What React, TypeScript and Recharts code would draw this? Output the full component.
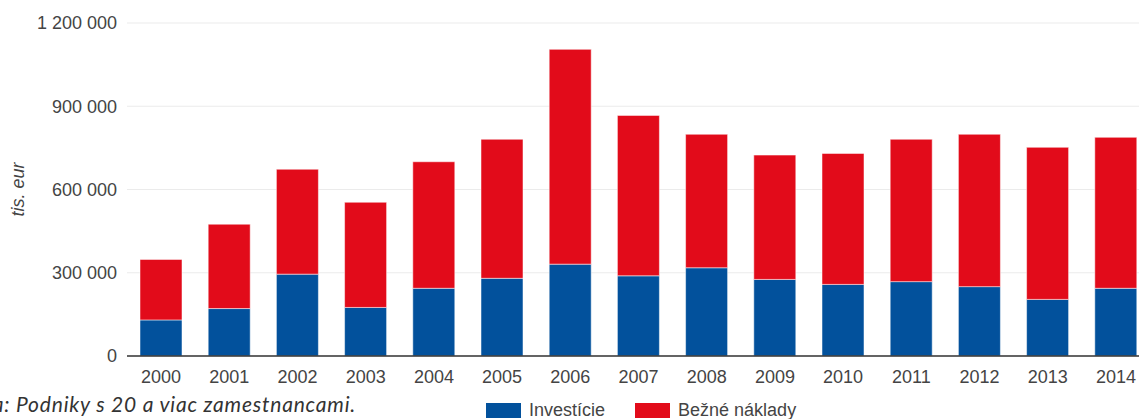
import { BarChart, Bar, XAxis, YAxis, CartesianGrid } from "recharts";

const years = [
  "2000", "2001", "2002", "2003", "2004", "2005", "2006", "2007",
  "2008", "2009", "2010", "2011", "2012", "2013", "2014",
];
// tis. eur
const investicie = [
  130000, 171000, 295000, 175000, 244000, 280000, 331000, 289000,
  318000, 276000, 258000, 268000, 250000, 204000, 244000,
];
const bezneNaklady = [
  218000, 304000, 378000, 379000, 456000, 501000, 774000, 578000,
  481000, 448000, 472000, 513000, 549000, 548000, 544000,
];
const yTicks = [0, 300000, 600000, 900000, 1200000];

const BLUE = "#02519c";
const RED = "#e20b1a";
const FONT = "'Liberation Sans', Arial, sans-serif";

const chartData = years.map((year, i) => ({
  year,
  investicie: investicie[i],
  bezne: bezneNaklady[i],
}));

const fmt = (v: number) => String(v).replace(/\B(?=(\d{3})+(?!\d))/g, " ");

const legendItems = [
  { label: "Investície", color: BLUE },
  { label: "Bežné náklady", color: RED },
];

export default function App() {
  return (
    <div
      style={{
        position: "absolute",
        left: 0,
        top: 0,
        width: 1139,
        height: 419,
        overflow: "hidden",
        background: "#fff",
      }}
    >
      <BarChart
        width={1160}
        height={419}
        data={chartData}
        margin={{ top: 23, right: 10, left: 0, bottom: 33 }}
      >
        <CartesianGrid vertical={false} stroke="#ebebeb" />
        <XAxis
          dataKey="year"
          height={30}
          axisLine={{ stroke: "#333", strokeWidth: 1.5 }}
          tickLine={false}
          tickMargin={8}
          tick={{ fill: "#444", fontSize: 18, fontFamily: FONT }}
        />
        <YAxis
          width={127}
          domain={[0, 1200000]}
          ticks={yTicks}
          tickFormatter={fmt}
          axisLine={false}
          tickLine={false}
          tickMargin={4}
          tick={{ fill: "#444", fontSize: 18, fontFamily: FONT }}
          label={{
            content: ({ viewBox }: any) => {
              const cy = viewBox.y + viewBox.height / 2;
              return (
                <text
                  x={18}
                  y={cy}
                  transform={`rotate(-90, 18, ${cy})`}
                  textAnchor="middle"
                  dominantBaseline="central"
                  fill="#444"
                  fontSize={18}
                  fontStyle="italic"
                  fontFamily={FONT}
                >
                  tis. eur
                </text>
              );
            },
          }}
        />
        <Bar
          dataKey="investicie"
          stackId="a"
          fill={BLUE}
          barSize={42}
          stroke="rgba(255,255,255,0.5)"
          strokeWidth={1}
          isAnimationActive={false}
        />
        <Bar
          dataKey="bezne"
          stackId="a"
          fill={RED}
          barSize={42}
          stroke="rgba(255,255,255,0.5)"
          strokeWidth={1}
          isAnimationActive={false}
        />
      </BarChart>

      <div
        style={{
          position: "absolute",
          left: 486,
          top: 400,
          display: "flex",
          alignItems: "center",
          fontFamily: FONT,
          fontSize: 18,
          color: "#444",
          whiteSpace: "nowrap",
        }}
      >
        {legendItems.map((it, i) => (
          <div
            key={it.label}
            style={{ display: "flex", alignItems: "center", marginRight: i === 0 ? 30 : 0 }}
          >
            <span
              style={{
                display: "inline-block",
                width: 35,
                height: 15,
                background: it.color,
                marginRight: 8,
              }}
            />
            <span>{it.label}</span>
          </div>
        ))}
      </div>

      <div
        style={{
          position: "absolute",
          right: 1139 - 356,
          top: 391,
          fontFamily: "Lato, 'Open Sans', sans-serif",
          fontStyle: "italic",
          fontSize: 21,
          letterSpacing: 0.8,
          color: "#333",
          whiteSpace: "nowrap",
        }}
      >
        Poznámka: Podniky s 20 a viac zamestnancami.
      </div>
    </div>
  );
}
